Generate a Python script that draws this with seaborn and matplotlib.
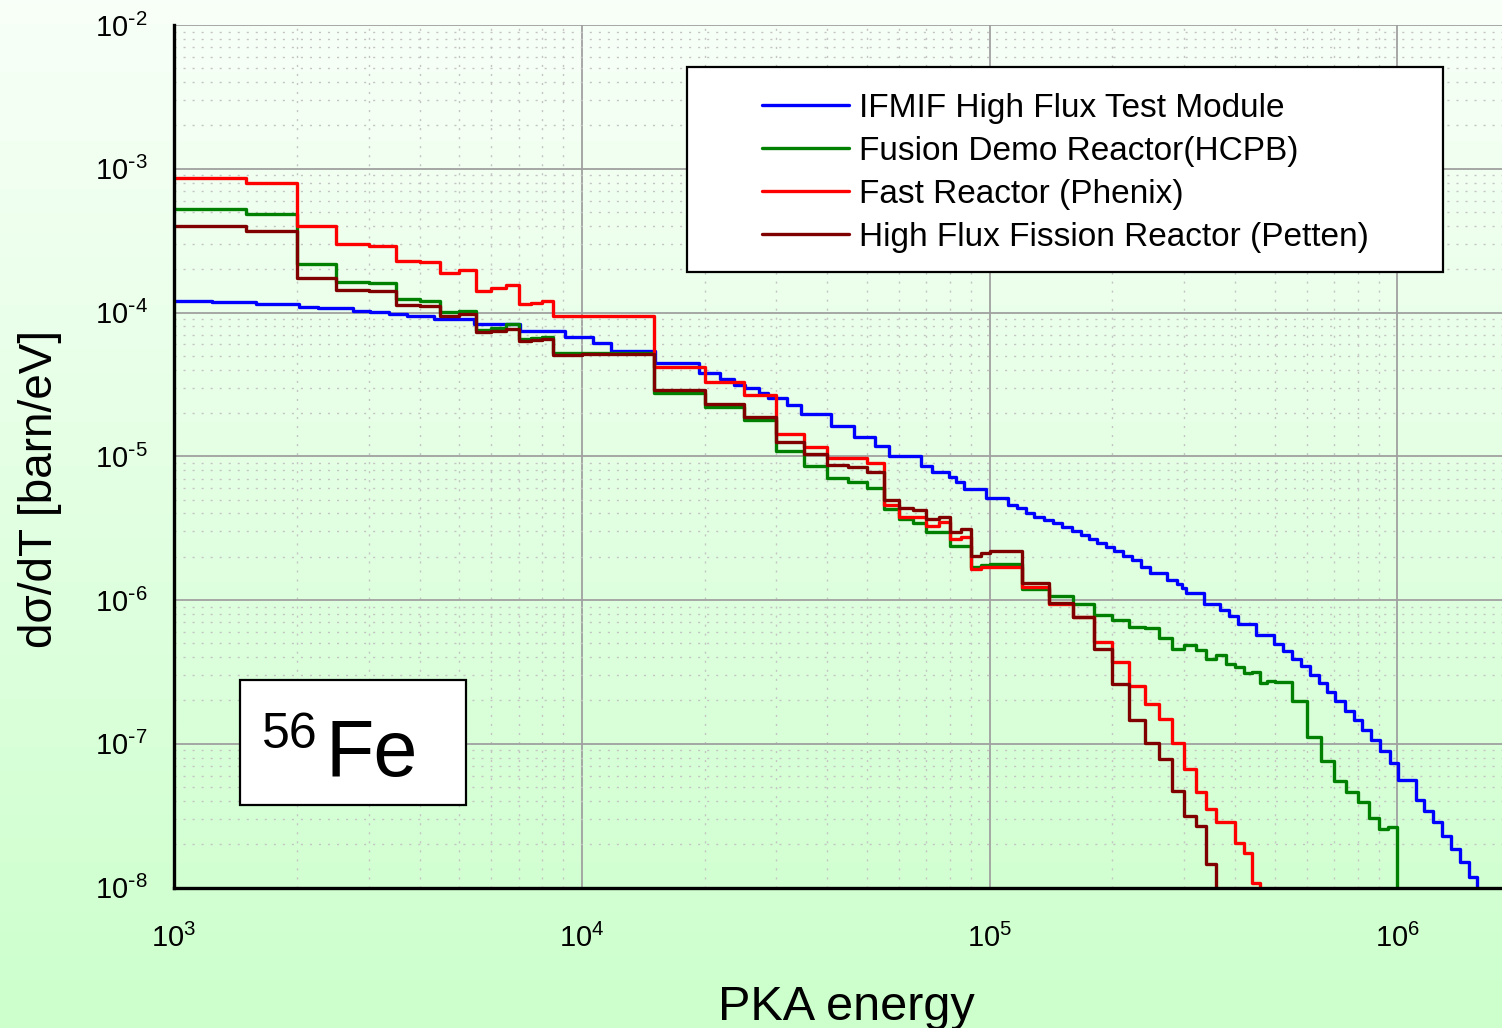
import numpy as np
import pandas as pd
import matplotlib
matplotlib.use("Agg")
import matplotlib.pyplot as plt
import seaborn as sns
from matplotlib.colors import LinearSegmentedColormap
from matplotlib.lines import Line2D
from matplotlib.patches import Rectangle
from matplotlib.ticker import LogLocator, NullFormatter, FuncFormatter

# ---------------- data (PKA energy in eV, dσ/dT in barn/eV) ----------------
fission_edges = [1000, 1500, 2000, 2500, 3000, 3500, 4000, 4500, 5000, 5500,
                 6000, 6500, 7000, 7500, 8000, 8500, 10000, 15000, 20000, 25000,
                 30000, 35000, 40000, 45000, 50000, 55000, 60000, 65000, 70000, 75000,
                 80000, 85000, 90000, 95000, 100000, 120000, 140000, 160000, 180000, 200000,
                 220000, 240000, 260000, 280000, 300000, 320000, 340000, 360000, 380000, 400000,
                 420000, 440000, 460000, 480000, 500000, 550000, 600000, 650000, 700000, 750000,
                 800000, 850000, 900000, 950000, 1000000]

ifmif_edges = [1000, 1240, 1590, 2030, 2260, 2750, 3030, 3360, 3720, 4340,
               5430, 7070, 9120, 10640, 11760, 15100, 19360, 21880, 23590, 25200,
               27160, 28580, 31900, 34380, 40890, 46450, 52480, 56650, 67700, 72050,
               79430, 82770, 86700, 98260, 110800, 116400, 122900, 128300, 135800, 143200,
               150600, 158800, 167100, 175100, 183600, 193100, 202400, 212200, 223800, 234500,
               247100, 272600, 288500, 296700, 302300, 335200, 366800, 386100, 406200, 451300,
               497700, 524800, 552100, 580800, 609600, 641300, 672400, 704700, 742000, 782000,
               819600, 862400, 905300, 957900, 1002000, 1108000, 1165000, 1224000, 1288000, 1355000,
               1422000, 1497000, 1570000]

ifmif_values = [1.21e-4, 1.18e-4, 1.155e-4, 1.10e-4, 1.07e-4, 1.03e-4, 1.01e-4, 9.79e-5, 9.48e-5, 9.04e-5,
                8.34e-5, 7.49e-5, 6.74e-5, 6.12e-5, 5.44e-5, 4.44e-5, 3.78e-5, 3.45e-5, 3.13e-5, 2.97e-5,
                2.77e-5, 2.53e-5, 2.27e-5, 1.96e-5, 1.62e-5, 1.37e-5, 1.18e-5, 1.00e-5, 8.55e-6, 7.72e-6,
                7.13e-6, 6.64e-6, 5.91e-6, 5.14e-6, 4.57e-6, 4.34e-6, 4.06e-6, 3.79e-6, 3.63e-6, 3.41e-6,
                3.23e-6, 3.01e-6, 2.82e-6, 2.65e-6, 2.51e-6, 2.34e-6, 2.18e-6, 2.02e-6, 1.89e-6, 1.70e-6,
                1.54e-6, 1.37e-6, 1.29e-6, 1.22e-6, 1.12e-6, 9.44e-7, 8.48e-7, 7.70e-7, 6.85e-7, 5.68e-7,
                4.97e-7, 4.41e-7, 3.91e-7, 3.45e-7, 3.03e-7, 2.64e-7, 2.29e-7, 1.97e-7, 1.70e-7, 1.47e-7,
                1.25e-7, 1.06e-7, 8.87e-8, 7.36e-8, 5.60e-8, 4.08e-8, 3.39e-8, 2.84e-8, 2.29e-8, 1.85e-8,
                1.51e-8, 1.19e-8]

demo_values = [5.26e-4, 4.86e-4, 2.17e-4, 1.64e-4, 1.60e-4, 1.24e-4, 1.21e-4, 1.01e-4, 1.03e-4, 7.57e-5,
               7.78e-5, 8.30e-5, 6.55e-5, 6.65e-5, 6.75e-5, 5.26e-5, 5.26e-5, 2.74e-5, 2.19e-5, 1.79e-5,
               1.09e-5, 8.55e-6, 7.01e-6, 6.64e-6, 5.97e-6, 4.27e-6, 3.67e-6, 3.41e-6, 2.98e-6, 2.98e-6,
               2.38e-6, 2.38e-6, 1.70e-6, 1.74e-6, 1.77e-6, 1.20e-6, 1.06e-6, 9.44e-7, 7.82e-7, 7.22e-7,
               6.49e-7, 6.43e-7, 5.47e-7, 4.58e-7, 4.89e-7, 4.51e-7, 3.91e-7, 4.12e-7, 3.60e-7, 3.41e-7,
               3.10e-7, 3.15e-7, 2.66e-7, 2.73e-7, 2.69e-7, 1.98e-7, 1.12e-7, 7.55e-8, 5.54e-8, 4.59e-8,
               3.96e-8, 3.05e-8, 2.54e-8, 2.65e-8]

phenix_values = [8.64e-4, 7.97e-4, 3.97e-4, 3.00e-4, 2.92e-4, 2.27e-4, 2.24e-4, 1.88e-4, 1.98e-4, 1.42e-4,
                 1.48e-4, 1.56e-4, 1.15e-4, 1.17e-4, 1.21e-4, 9.38e-5, 9.53e-5, 4.17e-5, 3.30e-5, 2.67e-5,
                 1.43e-5, 1.16e-5, 9.67e-6, 9.67e-6, 8.92e-6, 4.57e-6, 3.79e-6, 3.79e-6, 3.26e-6, 3.48e-6,
                 2.65e-6, 2.75e-6, 1.64e-6, 1.70e-6, 1.70e-6, 1.23e-6, 9.44e-7, 7.61e-7, 5.10e-7, 3.70e-7,
                 2.52e-7, 1.90e-7, 1.49e-7, 1.01e-7, 6.68e-8, 4.59e-8, 3.52e-8, 2.84e-8, 2.84e-8, 2.03e-8,
                 1.73e-8, 1.08e-8]

petten_values = [3.97e-4, 3.71e-4, 1.75e-4, 1.44e-4, 1.40e-4, 1.13e-4, 1.11e-4, 9.38e-5, 9.75e-5, 7.26e-5,
                 7.46e-5, 7.70e-5, 6.35e-5, 6.45e-5, 6.56e-5, 5.07e-5, 5.13e-5, 2.89e-5, 2.31e-5, 1.87e-5,
                 1.26e-5, 1.03e-5, 8.68e-6, 8.45e-6, 7.80e-6, 4.95e-6, 4.34e-6, 4.22e-6, 3.67e-6, 3.79e-6,
                 2.98e-6, 3.10e-6, 2.02e-6, 2.11e-6, 2.18e-6, 1.32e-6, 9.53e-7, 7.61e-7, 4.53e-7, 2.61e-7,
                 1.47e-7, 1.01e-7, 7.85e-8, 4.72e-8, 3.16e-8, 2.69e-8, 1.46e-8]

series_names = ["IFMIF High Flux Test Module",
                "Fusion Demo Reactor(HCPB)",
                "Fast Reactor (Phenix)",
                "High Flux Fission Reactor (Petten)"]
series_colors = ["#0000ff", "#008000", "#ff0000", "#800000"]

x_ticks = [1e3, 1e4, 1e5, 1e6]
y_ticks = [1e-8, 1e-7, 1e-6, 1e-5, 1e-4, 1e-3, 1e-2]

# ---------------- build long-form table ----------------
FLOOR = 1e-12  # spectrum ends: drop below the axis


def step_frame(name, edges, values):
    e = list(edges[:len(values) + 1])
    v = list(values) + [FLOOR]
    return pd.DataFrame({"energy": e, "xs": v, "series": name})


df = pd.concat([
    step_frame(series_names[0], ifmif_edges, ifmif_values),
    step_frame(series_names[1], fission_edges, demo_values),
    step_frame(series_names[2], fission_edges, phenix_values),
    step_frame(series_names[3], fission_edges, petten_values),
], ignore_index=True)

# ---------------- style ----------------
sns.set_theme(style="white")
plt.rcParams["font.family"] = ["Liberation Sans", "DejaVu Sans"]
plt.rcParams["mathtext.default"] = "regular"
plt.rcParams["axes.unicode_minus"] = False
plt.rcParams["text.color"] = "black"

W, H = 1502, 1028
fig = plt.figure(figsize=(W / 100, H / 100), dpi=100)

# background gradient (near white at top -> light green at bottom)
bg = fig.add_axes([0, 0, 1, 1], zorder=-10)
cmap = LinearSegmentedColormap.from_list("bg", ["#f8fff8", "#ccffcc"])
bg.imshow(np.linspace(0, 1, 256).reshape(-1, 1), aspect="auto", cmap=cmap,
          extent=[0, 1, 0, 1])
bg.axis("off")


def fx(px):
    return px / W


def fy(py):
    return 1 - py / H


ax = fig.add_axes([fx(174), fy(887.5), fx(1502) - fx(174), fy(25) - fy(887.5)])
ax.set_facecolor("none")
ax.set_xscale("log")
ax.set_yscale("log")

sns.lineplot(data=df, x="energy", y="xs", hue="series", hue_order=series_names,
             palette=dict(zip(series_names, series_colors)), estimator=None,
             sort=False, drawstyle="steps-post", linewidth=2.4, legend=False, ax=ax)

ax.set_xlabel("")
ax.set_ylabel("")
ax.set_xticks(x_ticks)
ax.set_yticks(y_ticks)


def pow_label(v, pos):
    e = int(round(np.log10(v)))
    if e < 0:
        return r"$10^{\text{-}%d}$" % (-e)
    return r"$10^{%d}$" % e


ax.xaxis.set_major_formatter(FuncFormatter(pow_label))
ax.yaxis.set_major_formatter(FuncFormatter(pow_label))
ax.xaxis.set_minor_locator(LogLocator(base=10, subs=np.arange(2, 10), numticks=30))
ax.yaxis.set_minor_locator(LogLocator(base=10, subs=np.arange(2, 10), numticks=30))
ax.xaxis.set_minor_formatter(NullFormatter())
ax.yaxis.set_minor_formatter(NullFormatter())
ax.set_xlim(1e3, 1.805e6)
ax.set_ylim(1e-8, 1e-2)

ax.grid(which="major", color="#a0a0a0", linewidth=1.3, linestyle="-")
ax.grid(which="minor", color="#c4c4c4", linewidth=1.0, linestyle=(0, (1.5, 5)))
ax.set_axisbelow(True)

for s in ["top", "right"]:
    ax.spines[s].set_visible(False)
for s in ["left", "bottom"]:
    ax.spines[s].set_color("black")
    ax.spines[s].set_linewidth(2.4)

ax.tick_params(which="major", direction="out", length=13, width=2.0, color="black",
               labelsize=21, labelcolor="black", pad=6)
ax.tick_params(which="minor", direction="out", length=6, width=1.8, color="black")
ax.tick_params(axis="x", which="major", pad=13)

# axis titles
fig.text(fx(846), fy(1020), "PKA energy", ha="center", va="baseline", fontsize=35, color="black")
fig.text(fx(40), fy(489), "dσ/dT [barn/eV]", rotation=90, ha="center", va="center",
         fontsize=33, color="black")

# legend with its own rectangular frame
fig.add_artist(Rectangle((fx(687), fy(272)), fx(1443) - fx(687), fy(67) - fy(272),
                         transform=fig.transFigure, facecolor="white", edgecolor="black",
                         linewidth=1.6, zorder=5))
handles = [Line2D([], [], color=c, linewidth=2.4) for c in series_colors]
leg = fig.legend(handles, series_names, loc="upper left", bbox_to_anchor=(fx(762), fy(93)),
                 bbox_transform=fig.transFigure, frameon=False, fontsize=24, borderpad=0,
                 borderaxespad=0, handlelength=2.6, handletextpad=0.3, labelspacing=0.36)
for t in leg.get_texts():
    t.set_color("black")
leg.set_zorder(6)

# 56Fe label box
fig.add_artist(Rectangle((fx(240), fy(805)), fx(466) - fx(240), fy(680) - fy(805),
                         transform=fig.transFigure, facecolor="white", edgecolor="black",
                         linewidth=1.6, zorder=5))
fig.text(fx(262), fy(748), "56", ha="left", va="baseline", fontsize=36, color="black", zorder=6)
fig.text(fx(325), fy(776), "Fe", ha="left", va="baseline", fontsize=57, color="black", zorder=6)

fig.savefig("out.png", dpi=100)
